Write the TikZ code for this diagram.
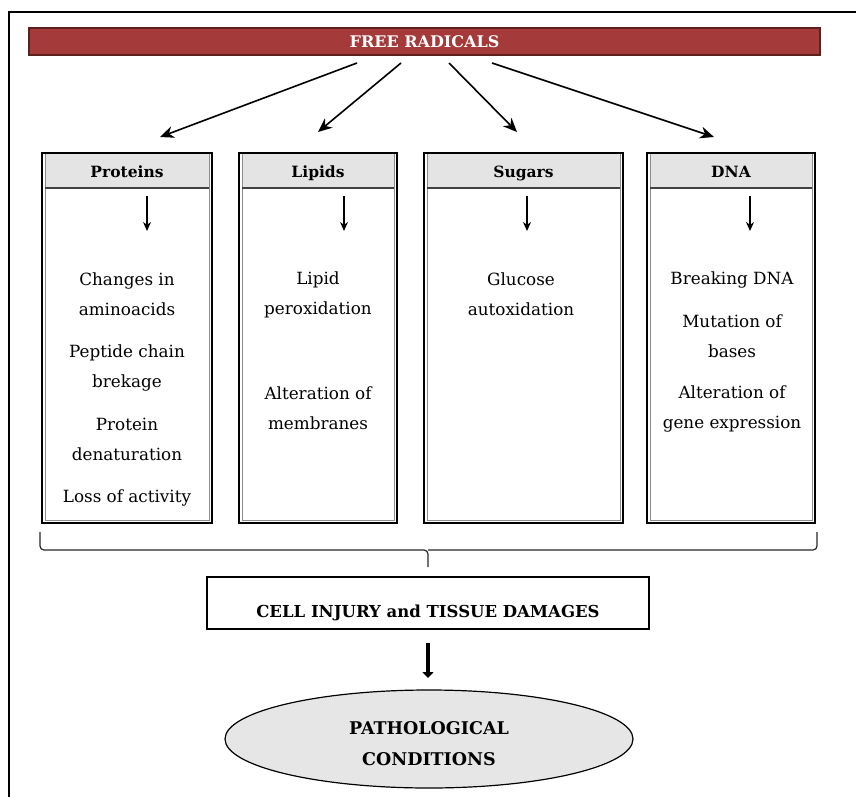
\documentclass[tikz,border=0pt]{standalone}
\usepackage{fontspec}
\setmainfont{DejaVu Serif}
\usetikzlibrary{arrows.meta,shapes.geometric,calc}

\definecolor{barred}{HTML}{A53A3A}
\definecolor{bardark}{HTML}{5E1F1F}
\definecolor{headgray}{HTML}{E4E4E4}
\definecolor{ovalgray}{HTML}{E6E6E6}

\begin{document}
\begin{tikzpicture}[x=1pt,y=-1pt,
  body/.style={font=\fontsize{16.8}{30}\selectfont, align=center, inner sep=0pt},
  headtxt/.style={font=\bfseries\fontsize{15.5}{18}\selectfont, inner sep=0pt, anchor=base},
  bigarrow/.style={line width=1.6pt, -{Stealth[length=14pt,width=12pt]}},
  smallarrow/.style={line width=1.4pt, -{Stealth[length=9pt,width=8pt]}},
  brace/.style={line width=1.2pt, black!85, rounded corners=4pt},
]
\useasboundingbox (0,0) rectangle (856,797);

% outer frame (left and top edges)
\draw[line width=1.5pt] (9,797) -- (9,12) -- (856,12);

% title bar
\node[fill=barred, draw=bardark, line width=1.2pt, minimum width=791pt,
      minimum height=27pt, inner sep=0pt, text=white,
      font=\bfseries\fontsize{16}{18}\selectfont] (fr) at (424.5,41.5) {FREE RADICALS};

% four category columns: outer frame, inner shadow line, grey header band
\foreach \nm/\l/\r/\lab in {prot/42/212/Proteins, lip/239/397/Lipids,
                            sug/424/623/Sugars, dna/647/815/DNA} {
  \fill[headgray] (\l+3,154) rectangle (\r-3,187);
  \draw[line width=0.9pt, black!45] (\l+3,153) -- (\l+3,520) -- (\r-3,520) -- (\r-3,153);
  \draw[line width=1.4pt] (\l,153) rectangle (\r,523);
  \draw[line width=2pt, black!75] (\l+3,188) -- (\r-3,188);
  \node[headtxt] (\nm) at ({(\l+\r)/2},177.5) {\lab};
}

% targets of the radical arrows
\coordinate (pt) at (160,137);
\coordinate (lt) at (318,132);
\coordinate (st) at (517,132);
\coordinate (dt) at (714,137);
\coordinate (f1) at (357,63);
\coordinate (f2) at (401,63);
\coordinate (f3) at (449,63);
\coordinate (f4) at (492,63);
\draw[bigarrow] (f1) -- (pt);
\draw[bigarrow] (f2) -- (lt);
\draw[bigarrow] (f3) -- (st);
\draw[bigarrow] (f4) -- (dt);

% small arrows inside the columns
\foreach \nm/\x in {pa/147, la/344, sa/527, da/750} {
  \coordinate (\nm1) at (\x,196);
  \coordinate (\nm2) at (\x,231);
  \draw[smallarrow] (\nm1) -- (\nm2);
}

% column contents
\node[body] (p1) at (127,294)   {Changes in\\aminoacids};
\node[body] (p2) at (127,367.5) {Peptide chain\\brekage};
\node[body] (p3) at (127,439.5) {Protein\\denaturation};
\node[body] (p4) at (127,498)   {Loss of activity};

\node[body] (l1) at (318,294.5) {Lipid\\peroxidation};
\node[body] (l2) at (318,408.5) {Alteration of\\membranes};

\node[body] (s1) at (521,294)   {Glucose\\autoxidation};

\node[body] (d1) at (732,279.5) {Breaking DNA};
\node[body] (d2) at (732,336.5) {Mutation of\\bases};
\node[body] (d3) at (732,408.5) {Alteration of\\gene expression};

% brace gathering the four columns
\coordinate (bl) at (40,532);
\coordinate (br) at (817,532);
\coordinate (bm) at (428,567);
\draw[brace] (bl) -- (40,550) -- (428,550) -- (bm);
\draw[brace] (br) -- (817,550) -- (428,550);

% cell injury box
\node[draw, line width=1.1pt, minimum width=442pt, minimum height=52pt,
      inner sep=0pt] (inj) at (428,603) {};
\node[font=\bfseries\fontsize{16.5}{18}\selectfont, inner sep=0pt] (injt) at (428,613)
      {CELL INJURY and TISSUE DAMAGES};

% outcome
\node[ellipse, draw, fill=ovalgray, line width=1.2pt, minimum width=408pt,
      minimum height=98pt, inner sep=0pt] (path) at (429,739) {};
\node[font=\bfseries\fontsize{17.5}{31}\selectfont, align=center, inner sep=0pt]
      (patht) at (429,744) {PATHOLOGICAL\\CONDITIONS};

\coordinate (ia) at (428,643);
\coordinate (ib) at (428,678);
\draw[line width=4.5pt, -{Triangle[length=6pt,width=11pt]}] (ia) -- (ib);
\end{tikzpicture}
\end{document}
